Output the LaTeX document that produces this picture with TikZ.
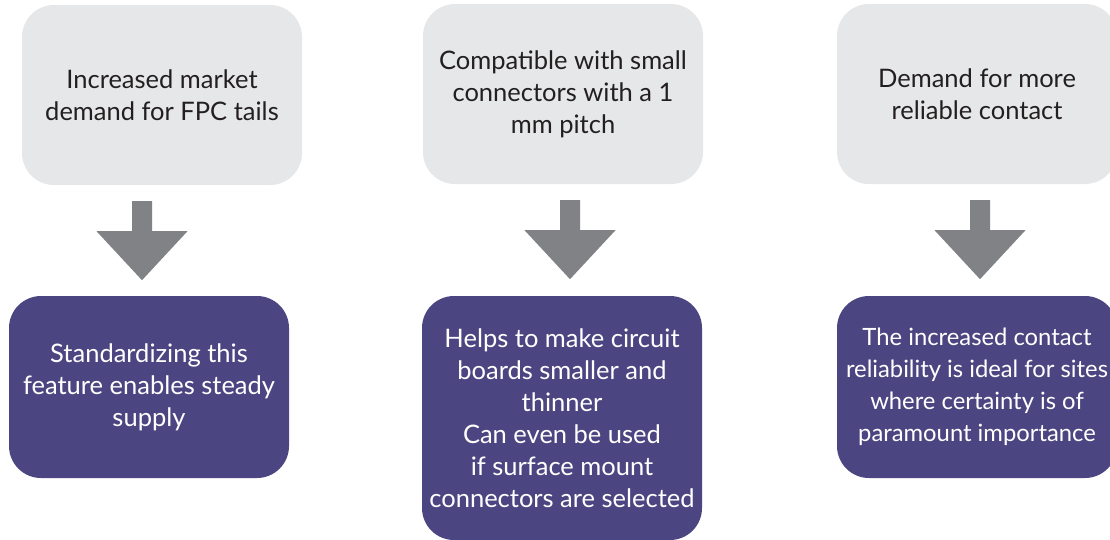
\documentclass[tikz,border=0pt]{standalone}
\usepackage{fontspec}
\setmainfont{Lato}
\usetikzlibrary{calc}
\definecolor{boxgray}{HTML}{E6E7E8}
\definecolor{arrowgray}{HTML}{808285}
\definecolor{boxpurple}{HTML}{4B4681}
\definecolor{textgray}{HTML}{231F20}
\tikzset{
    cause/.style={fill=boxgray, rounded corners=32pt, minimum width=280pt, minimum height=180pt,
        align=center, text=textgray, font=\fontsize{25.5}{32}\selectfont, inner sep=0pt},
    effect/.style={fill=boxpurple, rounded corners=32pt, minimum width=280pt,
        align=center, text=white, font=\fontsize{25.5}{32}\selectfont, inner sep=0pt},
    blockarrow/.style={fill=arrowgray},
}
\begin{document}
\begin{tikzpicture}[x=1pt,y=-1pt]
\useasboundingbox (0,0) rectangle (1110,539);
\clip (0,0) rectangle (1110,539);

\node[cause] (need1) at (162,95) {Increased market\\demand for FPC tails};
\node[cause] (need2) at (563,94) {Compatible with small\\connectors with a 1\\mm pitch};
\node[cause] (need3) at (977,94) {Demand for more\\reliable contact};

\node[effect, minimum height=182pt] (gain1) at (149,387) {Standardizing this\\feature enables steady\\supply};
\node[effect, minimum height=244pt] (gain2) at (562,418) {Helps to make circuit\\boards smaller and\\thinner\\Can even be used\\if surface mount\\connectors are selected};
\node[effect, minimum height=182pt, font=\fontsize{23.8}{32}\selectfont] (gain3) at (977,387) {The increased contact\\reliability is ideal for sites\\where certainty is of\\paramount importance};

% block arrows between the rows
\coordinate (a1) at ($(need1.south)+(-20,16)$);
\coordinate (a2) at ($(need2.south)+(7,16)$);
\coordinate (a3) at ($(need3.south)+(3,16)$);
\foreach \a in {a1,a2,a3}
    \fill[blockarrow] (\a) ++(-10,0) -- ++(20,0) -- ++(0,30) -- ++(35.5,0)
        -- ++(-45.5,49) -- ++(-45.5,-49) -- ++(35.5,0) -- cycle;
\end{tikzpicture}
\end{document}
